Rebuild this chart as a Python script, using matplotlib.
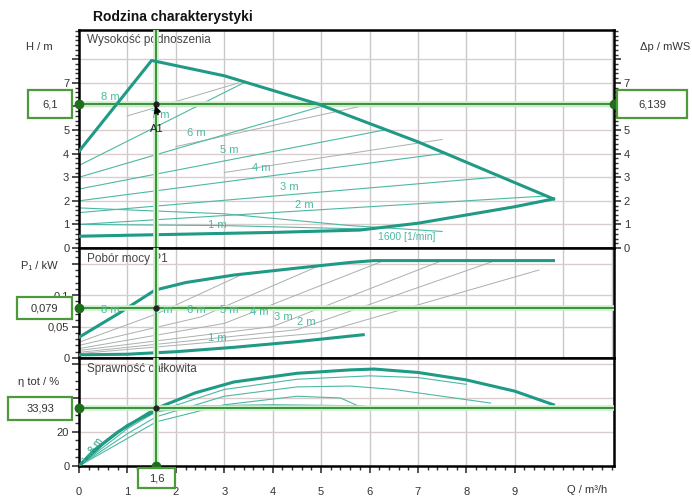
"""Pump characteristic family (H, P1, efficiency vs Q) with duty point A1"""

import numpy as np
import matplotlib.pyplot as plt
from matplotlib.patches import Rectangle
from matplotlib.ticker import MultipleLocator
from matplotlib.transforms import blended_transform_factory

plt.rcParams["font.family"] = ["Liberation Sans", "DejaVu Sans"]

TEAL = "#1f9a85"
TEAL_THIN = "#4db8a4"
GREY_THIN = "#a8b0ae"
GREEN = "#2f8a2f"
GREEN_HALO = "#cdeecd"
GRID_V = "#c9c9c9"
GRID_H = "#d8cccc"

# Duty point
Q_DUTY = 1.6
H_DUTY = 6.1
DP_DUTY = "6,139"
P_DUTY = 0.079
ETA_DUTY = 33.93

# ---- Head panel ----
# max curve (8 m Dp-v rise, then max speed curve)
q_hmax = [0.0, 1.5, 3.0, 4.94, 7.0, 9.8]
h_hmax = [4.1, 7.95, 7.3, 6.1, 4.5, 2.08]
# lower boundary
q_hmin = [0.0, 2.0, 4.0, 5.8, 7.0, 8.0, 9.0, 9.8]
h_hmin = [0.5, 0.58, 0.66, 0.76, 1.05, 1.4, 1.75, 2.08]
# Dp-v setpoint lines (start, end on max curve)
dpv_q = [[0.0, 3.4], [0.0, 5.0], [0.0, 6.3], [0.0, 7.5], [0.0, 8.6], [0.0, 9.6]]
dpv_h = [[3.5, 7.0], [3.0, 6.0], [2.5, 5.0], [2.0, 4.0], [1.5, 3.0], [1.0, 2.2]]
# constant speed thin curves
spd_q = [[0.0, 3.0, 5.6, 7.5], [0.0, 3.0, 6.0]]
spd_h = [[1.7, 1.45, 0.95, 0.7], [1.0, 0.95, 0.8]]
# grey diagonal lines
gry_q = [[1.0, 3.3], [2.0, 5.8], [3.0, 7.5]]
gry_h = [[5.6, 7.0], [4.3, 6.0], [3.2, 4.6]]
lbl_h_txt = ["8 m", "7 m", "6 m", "5 m", "4 m", "3 m", "2 m", "1 m"]
lbl_h_q = [0.64, 1.67, 2.43, 3.11, 3.77, 4.35, 4.66, 2.85]
lbl_h_y = [6.4, 5.64, 4.87, 4.15, 3.39, 2.58, 1.82, 0.97]

# ---- Power panel ----
q_pmax = [0.0, 0.8, 1.57, 2.2, 3.2, 4.5, 5.6, 6.1, 9.8]
p_pmax = [0.033, 0.07, 0.108, 0.12, 0.132, 0.143, 0.152, 0.155, 0.155]
q_pmin = [0.0, 1.0, 2.0, 3.2, 4.5, 5.87]
p_pmin = [0.005, 0.006, 0.01, 0.017, 0.026, 0.037]
pw_q = [[0.0, 1.6, 3.4], [0.0, 2.5, 5.0], [0.0, 3.0, 6.3], [0.0, 4.0, 7.5],
        [0.0, 4.5, 8.6], [0.0, 5.0, 9.5]]
pw_p = [[0.025, 0.07, 0.134], [0.02, 0.065, 0.148], [0.015, 0.055, 0.155],
        [0.012, 0.05, 0.155], [0.009, 0.045, 0.155], [0.007, 0.04, 0.14]]
lbl_p_q = [0.64, 1.73, 2.43, 3.1, 3.73, 4.21, 4.7, 2.85]
lbl_p_y = [0.076, 0.076, 0.076, 0.076, 0.073, 0.065, 0.057, 0.032]

# ---- Efficiency panel ----
q_eta = [0.0, 0.3, 0.8, 1.6, 2.4, 3.2, 4.5, 5.6, 6.1, 7.0, 8.0, 9.0, 9.8]
eta_max = [0.0, 9.0, 20.0, 33.93, 43.0, 49.4, 54.5, 56.5, 57.0, 55.0, 50.6, 44.0, 36.0]
q_etamin = [0.0, 0.5, 1.0, 1.6, 2.5, 4.0, 5.87]
eta_min = [0.0, 13.0, 24.0, 32.5, 35.0, 35.5, 35.0]
eta_q = [[0.0, 1.0, 1.6, 3.0, 4.5, 6.0, 7.0, 8.0],
         [0.0, 1.0, 1.6, 3.0, 4.5, 5.6, 6.5, 7.5, 8.5],
         [0.0, 1.6, 3.0, 4.5, 5.4, 5.87]]
eta_v = [[0.0, 22.0, 32.0, 45.0, 51.0, 53.0, 52.0, 48.0],
         [0.0, 19.0, 29.0, 41.0, 46.5, 47.0, 45.0, 41.0, 37.0],
         [0.0, 26.0, 36.0, 41.0, 40.0, 34.0]]

X_TICKS = [0, 1, 2, 3, 4, 5, 6, 7, 8, 9]

fig = plt.figure(figsize=(6.92, 4.97), dpi=100)
ax_h = fig.add_axes([0.1142, 0.501, 0.7731, 0.4386])
ax_p = fig.add_axes([0.1142, 0.2797, 0.7731, 0.2213])
ax_e = fig.add_axes([0.1142, 0.0624, 0.7731, 0.2173])

for ax in (ax_h, ax_p, ax_e):
    ax.set_xlim(0, 11.05)
    ax.xaxis.set_major_locator(MultipleLocator(1))
    ax.xaxis.set_minor_locator(MultipleLocator(0.2))
    ax.grid(True, axis="x", color=GRID_V, lw=1.0)
    ax.grid(True, axis="y", color=GRID_H, lw=1.0)
    ax.set_axisbelow(True)
    for s in ax.spines.values():
        s.set_linewidth(1.8)
    ax.tick_params(which="both", direction="out", labelsize=8, colors="#333333", pad=2)
    ax.tick_params(which="major", length=5, width=1.2)
    ax.tick_params(which="minor", length=3, width=1.0)
    ax.axvline(Q_DUTY, color=GREEN_HALO, lw=4, zorder=4)
    ax.axvline(Q_DUTY, color=GREEN, lw=1.3, zorder=5)

ax_h.tick_params(axis="x", which="both", bottom=False, labelbottom=False)
ax_p.tick_params(axis="x", which="both", bottom=False, labelbottom=False)

# ---- head ----
ax_h.set_ylim(0, 9.24)
ax_h.set_yticks(range(0, 9))
ax_h.set_yticklabels(["0", "1", "2", "3", "4", "5", "", "7", ""])
ax_h.yaxis.set_minor_locator(MultipleLocator(0.2))
ax_h.tick_params(axis="y", which="both", right=True, labelright=True)
for q, h in zip(gry_q, gry_h):
    ax_h.plot(q, h, color=GREY_THIN, lw=0.7, zorder=2)
for q, h in zip(spd_q, spd_h):
    ax_h.plot(q, h, color=TEAL_THIN, lw=0.8, zorder=2)
for q, h in zip(dpv_q, dpv_h):
    ax_h.plot(q, h, color=TEAL_THIN, lw=0.8, zorder=2)
ax_h.plot(q_hmax, h_hmax, color=TEAL, lw=2.2, zorder=6)
ax_h.plot(q_hmin, h_hmin, color=TEAL, lw=2.2, zorder=3)
for t, q, h in zip(lbl_h_txt, lbl_h_q, lbl_h_y):
    ax_h.text(q, h, t, color=TEAL_THIN, fontsize=8, ha="center", va="center", zorder=6)
ax_h.text(6.76, 0.47, "1600 [1/min]", color=TEAL_THIN, fontsize=7.5, ha="center", va="center")
ax_h.text(0.015, 0.955, "Wysokość podnoszenia", transform=ax_h.transAxes,
          fontsize=8.5, color="#444444", va="center")
ax_h.text(-0.075, 0.92, "H / m", transform=ax_h.transAxes, fontsize=8,
          color="#333333", va="center", ha="center")
ax_h.text(1.095, 0.92, "Δp / mWS", transform=ax_h.transAxes, fontsize=8,
          color="#333333", va="center", ha="center")

# ---- power ----
ax_p.set_ylim(0, 0.175)
ax_p.set_yticks([0, 0.05, 0.1, 0.15])
ax_p.set_yticklabels(["0", "0,05", "0,1", ""])
ax_p.yaxis.set_minor_locator(MultipleLocator(0.01))
for q, p in zip(pw_q, pw_p):
    ax_p.plot(q, p, color=GREY_THIN, lw=0.7, zorder=2)
ax_p.plot(q_pmax, p_pmax, color=TEAL, lw=2.2, zorder=3)
ax_p.plot(q_pmin, p_pmin, color=TEAL, lw=2.2, zorder=3)
for t, q, p in zip(lbl_h_txt, lbl_p_q, lbl_p_y):
    ax_p.text(q, p, t, color=TEAL_THIN, fontsize=8, ha="center", va="center", zorder=6)
ax_p.text(0.015, 0.9, "Pobór mocy P1", transform=ax_p.transAxes,
          fontsize=8.5, color="#444444", va="center")
ax_p.text(-0.075, 0.84, "P₁ / kW", transform=ax_p.transAxes, fontsize=8,
          color="#333333", va="center", ha="center")

# ---- efficiency ----
ax_e.set_ylim(0, 63.5)
ax_e.set_yticks([0, 20, 40, 60])
ax_e.set_yticklabels(["0", "20", "", ""])
ax_e.yaxis.set_minor_locator(MultipleLocator(5))
for q, e in zip(eta_q, eta_v):
    ax_e.plot(q, e, color=TEAL_THIN, lw=0.8, zorder=2)
ax_e.plot(q_etamin, eta_min, color=TEAL, lw=1.8, zorder=3)
ax_e.plot(q_eta, eta_max, color=TEAL, lw=2.2, zorder=3)
ax_e.text(0.35, 12, "8 m", color=TEAL, fontsize=7, rotation=55, ha="center", va="center")
ax_e.text(0.2, 5, "1 m", color=TEAL_THIN, fontsize=6, rotation=40, ha="center", va="center")
ax_e.text(0.015, 0.9, "Sprawność całkowita", transform=ax_e.transAxes,
          fontsize=8.5, color="#444444", va="center")
ax_e.text(-0.075, 0.78, "η tot / %", transform=ax_e.transAxes, fontsize=8,
          color="#333333", va="center", ha="center")
ax_e.set_xticks(X_TICKS)
ax_e.set_xticklabels([str(x) for x in X_TICKS])
ax_e.tick_params(axis="x", pad=10)
ax_e.text(10.5, -0.22, "Q / m³/h", transform=blended_transform_factory(ax_e.transData, ax_e.transAxes),
          fontsize=8, color="#333333", ha="center", va="center")

# ---- duty point lines, dots and value boxes ----
for ax, val in ((ax_h, H_DUTY), (ax_p, P_DUTY), (ax_e, ETA_DUTY)):
    ax.axhline(val, color=GREEN_HALO, lw=4, zorder=4)
    ax.axhline(val, color=GREEN, lw=1.3, zorder=5)
    ax.plot([0], [val], "o", color="#1e6e1e", ms=6, clip_on=False, zorder=7)
    ax.plot([Q_DUTY], [val], "o", color="#222222", ms=3.5, zorder=7)
ax_h.plot([11.05], [H_DUTY], "o", color="#1e6e1e", ms=6, clip_on=False, zorder=7)
ax_e.plot([Q_DUTY], [0], "o", color="#1e6e1e", ms=6, clip_on=False, zorder=7)
ax_h.annotate("", xy=(Q_DUTY - 0.05, H_DUTY + 0.05), xytext=(Q_DUTY + 0.05, H_DUTY - 0.55),
              arrowprops=dict(arrowstyle="-|>", color="black", lw=1.2), zorder=8)
ax_h.text(Q_DUTY, 5.05, "A1", fontsize=8, color="#222222", ha="center", va="center", zorder=9)


def value_box(ax, x0, x1, yc, half, text):
    tr = blended_transform_factory(ax.transAxes, ax.transData)
    ax.add_patch(Rectangle((x0, yc - half), x1 - x0, 2 * half, transform=tr,
                           facecolor="white", edgecolor="#4c9a3c", lw=1.6,
                           clip_on=False, zorder=9))
    ax.text((x0 + x1) / 2, yc, text, transform=tr, fontsize=8, color="#333333",
            ha="center", va="center", clip_on=False, zorder=10)


value_box(ax_h, -0.0953, -0.0131, H_DUTY, 0.59, "6,1")
value_box(ax_h, 1.0056, 1.1364, H_DUTY, 0.59, DP_DUTY)
value_box(ax_p, -0.1159, -0.0131, P_DUTY, 0.0175, "0,079")
value_box(ax_e, -0.1327, -0.0131, ETA_DUTY, 6.8, "33,93")

trx = blended_transform_factory(ax_e.transData, ax_e.transAxes)
ax_e.add_patch(Rectangle((1.22, -0.205), 0.76, 0.185, transform=trx, facecolor="white",
                         edgecolor="#4c9a3c", lw=1.6, clip_on=False, zorder=9))
ax_e.text(Q_DUTY, -0.112, "1,6", transform=trx, fontsize=8, color="#333333",
          ha="center", va="center", zorder=10)

fig.text(0.134, 0.965, "Rodzina charakterystyki", fontsize=10, fontweight="bold",
         color="#111111", va="center")

plt.savefig("out.png", dpi=100)
plt.close()
